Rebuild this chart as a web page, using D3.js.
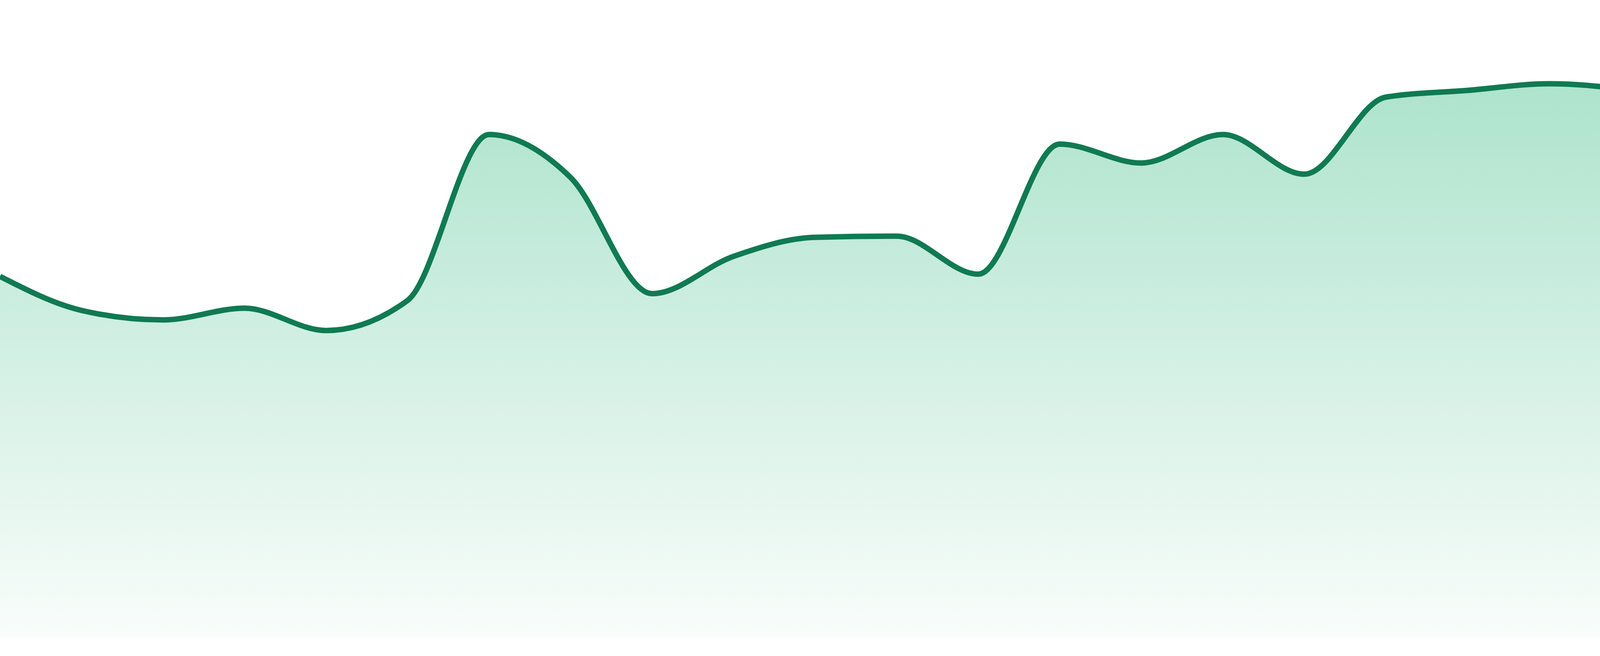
<!DOCTYPE html>
<html>
<head>
<meta charset="utf-8">
<script src="https://cdn.jsdelivr.net/npm/d3@7"></script>
<style>
  html, body { margin: 0; padding: 0; background: #ffffff; }
  svg { display: block; }
</style>
</head>
<body>
<div id="chart"></div>
<script>
// Data
const categories = ["P1","P2","P3","P4","P5","P6","P7","P8","P9","P10","P11","P12",
                    "P13","P14","P15","P16","P17","P18","P19","P20","P21","P22","P23","P24"];
const values = [64.7, 58.6, 56.9, 59.0, 55.0, 60.4, 90.1, 82.4, 61.6, 68.3, 71.7, 71.9,
                65.1, 88.4, 85.0, 90.1, 83.0, 96.8, 98.0, 99.2, 98.0, 94.8, 100.0, 93.8];

const W = 4800, H = 1680;
const margin = { top: 203, right: 0, bottom: 47, left: 0 };

const svg = d3.select("#chart").append("svg")
  .attr("width", W).attr("height", H);

const x = d3.scalePoint().domain(categories).range([margin.left, W - margin.right]);
const y = d3.scaleLinear().domain([0, 100]).range([H - margin.bottom, margin.top]);

const defs = svg.append("defs");
const grad = defs.append("linearGradient")
  .attr("id", "areaGrad")
  .attr("gradientUnits", "userSpaceOnUse")
  .attr("x1", 0).attr("x2", 0)
  .attr("y1", y(100)).attr("y2", y(0));
grad.append("stop").attr("offset", "0%").attr("stop-color", "#ade3cd");
grad.append("stop").attr("offset", "100%").attr("stop-color", "#f9fdfb");

const data = categories.map((c, i) => ({ c, v: values[i] }));

const area = d3.area()
  .x(d => x(d.c))
  .y0(y(0))
  .y1(d => y(d.v))
  .curve(d3.curveMonotoneX);

const line = d3.line()
  .x(d => x(d.c))
  .y(d => y(d.v))
  .curve(d3.curveMonotoneX);

svg.append("path")
  .datum(data)
  .attr("d", area)
  .attr("fill", "url(#areaGrad)");

svg.append("path")
  .datum(data)
  .attr("d", line)
  .attr("fill", "none")
  .attr("stroke", "#107a52")
  .attr("stroke-width", 14)
  .attr("stroke-linejoin", "round");
</script>
</body>
</html>
